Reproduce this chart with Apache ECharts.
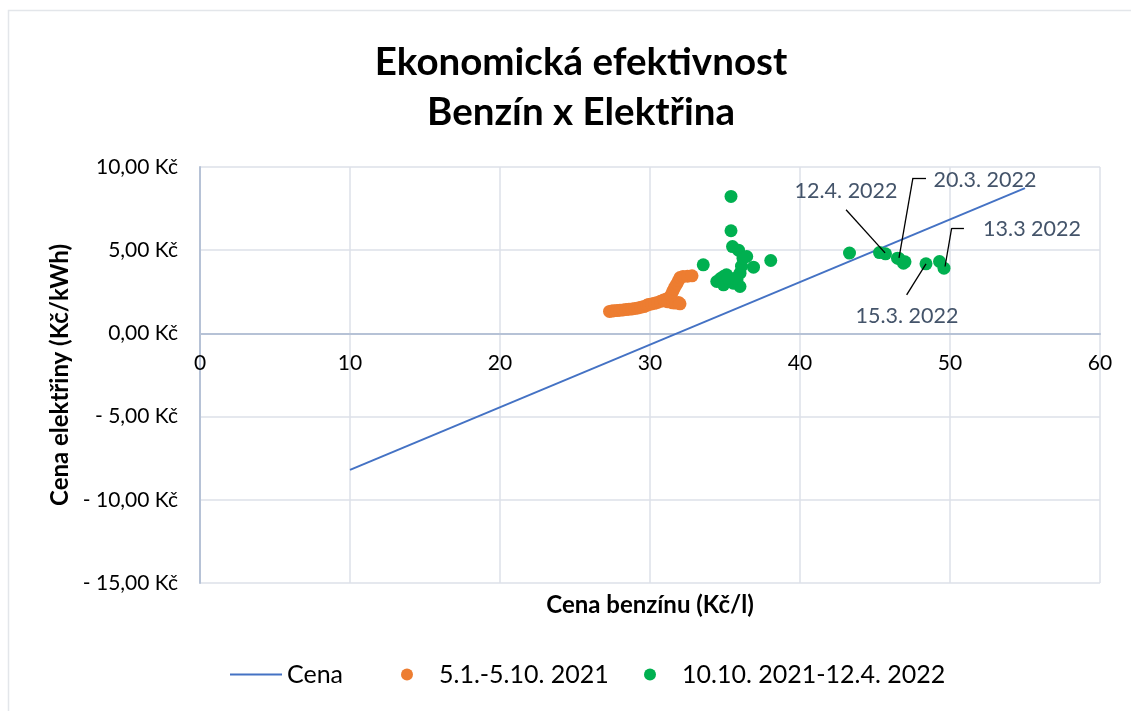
<!DOCTYPE html>
<html>
<head>
<meta charset="utf-8">
<script src="https://cdn.jsdelivr.net/npm/echarts@6/dist/echarts.min.js"></script>
<style>
  html, body { margin: 0; padding: 0; background: #fff; }
  #chart { width: 1131px; height: 711px; }
</style>
</head>
<body>
<div id="chart"></div>
<script>
// data
const cenaLine = [[10, -8.2], [55, 8.73]];

const data2021 = [
  [27.3, 1.32], [27.45, 1.34], [27.6, 1.36], [27.8, 1.37], [28.0, 1.39], [28.2, 1.41],
  [28.4, 1.43], [28.6, 1.45], [28.8, 1.47], [29.0, 1.5], [29.2, 1.53], [29.4, 1.57],
  [29.6, 1.61], [29.8, 1.69], [29.9, 1.74], [30.1, 1.77], [30.3, 1.81], [30.5, 1.86],
  [30.7, 1.93], [30.9, 2.0], [31.1, 2.07], [31.3, 2.14], [31.0, 1.95], [31.2, 1.9],
  [31.5, 1.84], [31.7, 1.82], [31.9, 1.86], [32.0, 1.78], [31.4, 2.3], [31.5, 2.5],
  [31.6, 2.68], [31.7, 2.85], [31.8, 3.0], [31.9, 3.18], [32.0, 3.36], [32.2, 3.42],
  [32.5, 3.44], [32.8, 3.46]
];

const data2022 = [
  [33.55, 4.12], [34.45, 3.12], [34.7, 3.3], [34.9, 3.42], [35.1, 3.52], [34.9, 2.92],
  [35.3, 3.12], [35.55, 3.02], [35.8, 3.22], [36.0, 3.62], [36.1, 4.04], [36.0, 2.82],
  [35.6, 3.3], [35.2, 3.35], [35.4, 8.23], [35.4, 6.17], [35.5, 5.22], [35.9, 5.0],
  [36.2, 4.52], [36.45, 4.62], [36.9, 3.98], [38.05, 4.38],
  [43.3, 4.83], [45.3, 4.86], [45.7, 4.78], [46.5, 4.52], [46.6, 4.5], [46.9, 4.22],
  [47.0, 4.3], [48.4, 4.18], [49.3, 4.32], [49.6, 3.92]
];

const xTicks = [0, 10, 20, 30, 40, 50, 60];
const yTicks = [-15, -10, -5, 0, 5, 10];

// popisky s odkazovými čarami (v souřadnicích grafu)
const notes = [
  { text: '12.4. 2022', at: [43.07, 8.56], path: [[43.07, 7.43], [45.67, 4.84]] },
  { text: '20.3. 2022', at: [52.33, 9.23], path: [[48.4, 9.35], [47.53, 9.35], [46.6, 4.54]] },
  { text: '13.3 2022', at: [55.47, 6.27], path: [[50.93, 6.33], [50.11, 6.33], [49.67, 4.02]] },
  { text: '15.3. 2022', at: [47.13, 1.06], path: [[47.11, 2.32], [48.4, 4.18]] }
];

const font = 'Lato, "Noto Sans", sans-serif';

function kc(v) {
  const s = Math.abs(v).toFixed(2).replace('.', ',') + ' Kč';
  return v < 0 ? '- ' + s : s;
}

const noteLines = [];
notes.forEach(n => {
  for (let i = 0; i < n.path.length - 1; i++) {
    noteLines.push([{ coord: n.path[i] }, { coord: n.path[i + 1] }]);
  }
});

const legendText = { fontFamily: font, fontSize: 25, color: '#000' };

const chart = echarts.init(document.getElementById('chart'));
chart.setOption({
  backgroundColor: '#fff',
  textStyle: { fontFamily: font },
  graphic: [{
    type: 'rect',
    shape: { x: 8.5, y: 10.5, width: 1300, height: 900 },
    style: { fill: 'none', stroke: '#e3e6ea', lineWidth: 1.5 },
    silent: true
  }],
  title: {
    text: 'Ekonomická efektivnost\nBenzín x Elektřina',
    left: 576,
    textAlign: 'center',
    top: 33,
    textStyle: { fontFamily: font, fontSize: 38.5, fontWeight: 'bold', color: '#000', lineHeight: 50 }
  },
  legend: [
    {
      data: [{ name: 'Cena', icon: 'rect' }], left: 230, top: 662, padding: 0,
      itemWidth: 52, itemHeight: 2,
      itemStyle: { color: '#4472C4' },
      textStyle: legendText
    },
    {
      data: ['5.1.-5.10. 2021'], left: 401, top: 662, padding: 0, itemWidth: 12, itemHeight: 20,
      textStyle: Object.assign({ padding: [0, 0, 0, 21] }, legendText)
    },
    {
      data: ['10.10. 2021-12.4. 2022'], left: 644, top: 662, padding: 0, itemWidth: 12, itemHeight: 20,
      textStyle: Object.assign({ padding: [0, 0, 0, 21] }, legendText)
    }
  ],
  grid: { left: 200, right: 31, top: 167, bottom: 128, containLabel: false, outerBoundsMode: 'none' },
  xAxis: {
    type: 'value',
    min: 0, max: 60, interval: 10,
    name: 'Cena benzínu (Kč/l)',
    nameLocation: 'middle',
    nameGap: 10,
    nameTextStyle: { fontFamily: font, fontSize: 24, fontWeight: 'bold', color: '#000' },
    axisLine: { onZero: true, lineStyle: { color: '#b6c2d6', width: 2 } },
    axisTick: { show: false },
    // popisky osy x leží u nulové čáry
    axisLabel: { margin: -230, fontSize: 21, color: '#000', fontFamily: font,
      formatter: v => xTicks.indexOf(v) >= 0 ? String(v) : '' },
    splitLine: { lineStyle: { color: '#dde1e8', width: 1.5 } }
  },
  yAxis: {
    type: 'value',
    min: -15, max: 10, interval: 5,
    name: 'Cena elektřiny (Kč/kWh)',
    nameLocation: 'middle',
    nameGap: 127,
    nameRotate: 90,
    nameTextStyle: { fontFamily: font, fontSize: 24, fontWeight: 'bold', color: '#000' },
    axisLine: { show: true, onZero: false, lineStyle: { color: '#b6c2d6', width: 2 } },
    axisTick: { show: false },
    axisLabel: { margin: 22, fontSize: 21, color: '#000', fontFamily: font,
      formatter: v => yTicks.indexOf(v) >= 0 ? kc(v) : '' },
    splitLine: { lineStyle: { color: '#dde1e8', width: 1.5 } }
  },
  series: [
    {
      name: 'Cena',
      type: 'line',
      data: cenaLine,
      symbol: 'none',
      itemStyle: { color: '#4472C4' },
      lineStyle: { color: '#4472C4', width: 2 },
      z: 3
    },
    {
      name: '5.1.-5.10. 2021',
      type: 'scatter',
      data: data2021,
      symbolSize: 13,
      itemStyle: { color: '#ED7D31', opacity: 1 },
      z: 4
    },
    {
      name: '10.10. 2021-12.4. 2022',
      type: 'scatter',
      data: data2022,
      symbolSize: 13,
      itemStyle: { color: '#00B050', opacity: 1 },
      z: 4,
      markLine: {
        silent: true,
        symbol: ['none', 'none'],
        label: { show: false },
        lineStyle: { color: '#000', width: 1.3, type: 'solid' },
        data: noteLines
      },
      markPoint: {
        silent: true,
        symbolSize: 0,
        label: { show: true, color: '#44546A', fontSize: 21.5, fontFamily: font,
          formatter: p => p.name },
        data: notes.map(n => ({ name: n.text, coord: n.at }))
      }
    }
  ]
});
</script>
</body>
</html>
